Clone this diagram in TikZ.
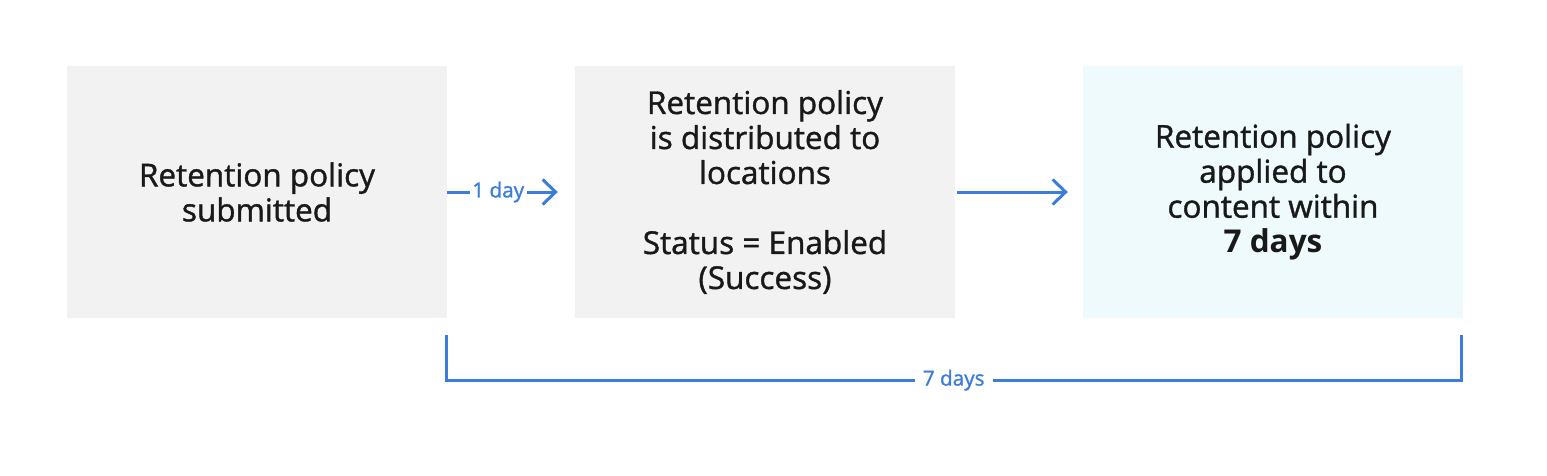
\documentclass[tikz,border=0pt]{standalone}
\usepackage{fontspec}
\setmainfont{Open Sans}[UprightFeatures={FakeBold=1.2}]
\usetikzlibrary{arrows.meta,calc}
\definecolor{boxgray}{HTML}{F2F2F2}
\definecolor{boxcyan}{HTML}{EFFAFD}
\definecolor{flowblue}{HTML}{3B7DD8}
\tikzset{
  stepbox/.style={minimum width=380pt, minimum height=252pt, inner sep=0pt, align=center,
    font=\fontsize{31.5}{35}\selectfont, text=black!90},
  flow/.style={draw=flowblue, line width=3pt, -{Straight Barb[length=13pt,width=25pt,line width=3pt]}},
  lab/.style={font=\fontsize{20.7}{24}\selectfont, text=flowblue, fill=white, inner sep=2.5pt},
  brack/.style={draw=flowblue, line width=3pt}
}
\begin{document}
\begin{tikzpicture}[x=1pt,y=-1pt]
\useasboundingbox[fill=white] (0,0) rectangle (1547,475);
\node[stepbox, fill=boxgray] (b1) at (257,192) {Retention policy\\submitted};
\node[stepbox, fill=boxgray] (b2) at (765,192) {Retention policy\\is distributed to\\locations\\[35pt]Status = Enabled\\(Success)};
\node[stepbox, fill=boxcyan] (b3) at (1273,192) {Retention policy\\applied to\\content within\\\textbf{7 days}};
\draw[flow, shorten >=17pt] (b1.east) -- node[lab, pos=0.4] (l1) {1 day} (b2.west);
\draw[flow, shorten <=2pt, shorten >=15pt] (b2.east) -- (b3.west);
\coordinate (bl) at ($(b1.south east)+(-1,17)$);
\coordinate (br) at ($(b3.south east)+(-2,17)$);
\coordinate (bll) at ($(bl)+(0,45)$);
\coordinate (brr) at ($(br)+(0,45)$);
\draw[brack, line join=miter] (bl) -- (bll) -- node[lab, inner xsep=8pt, pos=0.5] (l7) {7 days} (brr) -- (br);
\end{tikzpicture}
\end{document}
